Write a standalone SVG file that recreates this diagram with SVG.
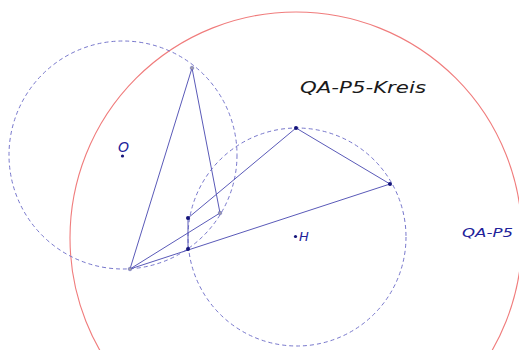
<svg xmlns="http://www.w3.org/2000/svg" width="519" height="350" viewBox="0 0 519 350">
<style>
.circ{fill:none;stroke:#7777cc;stroke-width:1;stroke-dasharray:4 3}
.red{fill:none;stroke:#f07c7c;stroke-width:1.1}
.seg{stroke:#5a5ab8;stroke-width:1;fill:none}
.pt{fill:#14147a}
.gp{fill:#9a9aa8;stroke:#5a5ab8;stroke-width:0.5}
.lbl{font-family:"DejaVu Sans",sans-serif;font-style:italic;fill:#22229a}
.title{font-family:"DejaVu Sans",sans-serif;font-style:italic;fill:#1a1a1a}
</style>
<rect width="519" height="350" fill="#ffffff"/>
<g id="circles">
<circle id="qa-p5-kreis" class="red" cx="296" cy="238" r="226"/>
<circle id="circle-O" class="circ" cx="123" cy="155" r="114"/>
<circle id="circle-H" class="circ" cx="297" cy="237" r="109"/>
</g>
<g id="connectors">
<line class="seg" x1="192" y1="68" x2="130" y2="269"/>
<line class="seg" x1="192" y1="68" x2="220" y2="213"/>
<line class="seg" x1="130" y1="269" x2="220" y2="213"/>
<line class="seg" x1="130" y1="269" x2="390" y2="184"/>
<line class="seg" x1="296" y1="128" x2="390" y2="184"/>
<line class="seg" x1="296" y1="128" x2="188" y2="218"/>
<line class="seg" x1="188" y1="218" x2="188" y2="249" stroke-width="1.5"/>
</g>
<g id="A"><circle class="gp" cx="192" cy="68" r="1.8"/></g>
<g id="B"><circle class="gp" cx="130" cy="269" r="1.8"/></g>
<g id="C"><circle class="gp" cx="220" cy="213" r="1.8"/></g>
<g id="D"><circle class="pt" cx="296" cy="128" r="2"/></g>
<g id="E"><circle class="pt" cx="390" cy="184" r="2"/></g>
<g id="G"><circle class="pt" cx="188" cy="218" r="2"/></g>
<g id="F"><circle class="pt" cx="188" cy="249" r="2"/></g>
<g id="O"><circle class="pt" cx="122.5" cy="156" r="1.6"/><text class="lbl" x="118" y="152" font-size="14">O</text></g>
<g id="H"><circle class="pt" cx="295.5" cy="236.5" r="1.6"/><text class="lbl" x="299" y="241" font-size="13">H</text></g>
<g id="QA-P5"><text class="lbl" x="462" y="237" font-size="12" textLength="51" lengthAdjust="spacingAndGlyphs">QA-P5</text></g>
<g id="QA-P5-Kreis-label"><text class="title" x="300" y="93" font-size="15" textLength="126" lengthAdjust="spacingAndGlyphs">QA-P5-Kreis</text></g>
</svg>
